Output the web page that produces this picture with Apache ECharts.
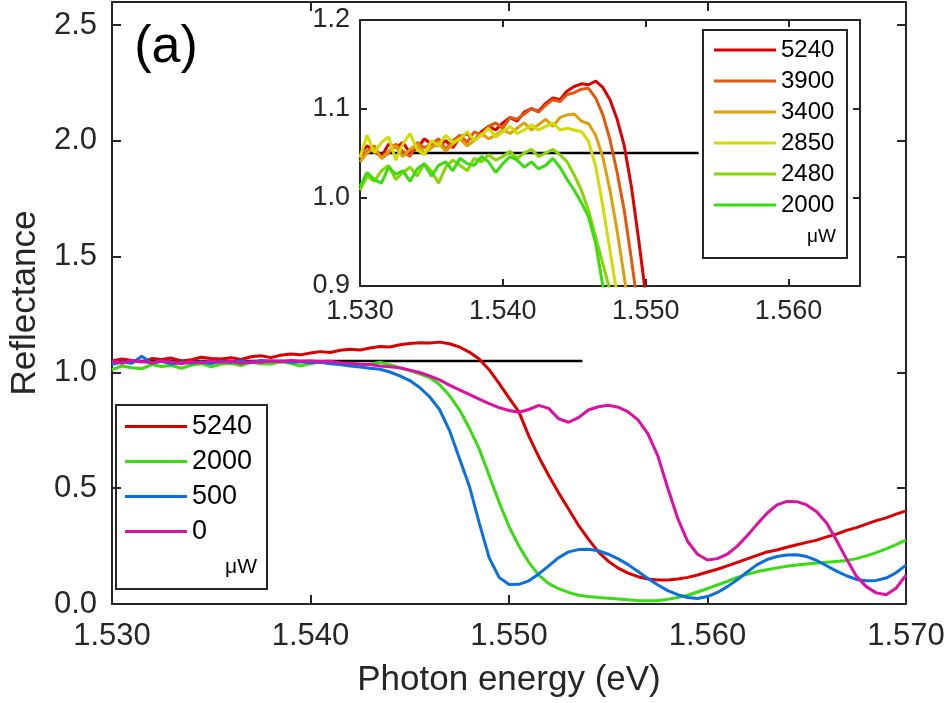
<!DOCTYPE html>
<html>
<head>
<meta charset="utf-8">
<script src="https://cdn.jsdelivr.net/npm/echarts@6/dist/echarts.min.js"></script>
<style>
  html, body { margin: 0; padding: 0; background: #fff; }
  #chart { width: 948px; height: 703px; }
</style>
</head>
<body>
<div id="chart"></div>
<script>
// photon energy (eV), sampled every 0.5 meV
var energy = [
  1.5300,1.5305,1.5310,1.5315,1.5320,1.5325,1.5330,1.5335,1.5340,1.5345,
  1.5350,1.5355,1.5360,1.5365,1.5370,1.5375,1.5380,1.5385,1.5390,1.5395,
  1.5400,1.5405,1.5410,1.5415,1.5420,1.5425,1.5430,1.5435,1.5440,1.5445,
  1.5450,1.5455,1.5460,1.5465,1.5470,1.5475,1.5480,1.5485,1.5490,1.5495,
  1.5500,1.5505,1.5510,1.5515,1.5520,1.5525,1.5530,1.5535,1.5540,1.5545,
  1.5550,1.5555,1.5560,1.5565,1.5570,1.5575,1.5580,1.5585,1.5590,1.5595,
  1.5600,1.5605,1.5610,1.5615,1.5620,1.5625,1.5630,1.5635,1.5640,1.5645,
  1.5650,1.5655,1.5660,1.5665,1.5670,1.5675,1.5680,1.5685,1.5690,1.5695,
  1.5700
];

// main panel, reflectance for each pump power (uW)
var r5240 = [
  1.050,1.058,1.052,1.046,1.060,1.056,1.062,1.050,1.055,1.066,
  1.060,1.058,1.064,1.056,1.068,1.072,1.064,1.074,1.080,1.076,
  1.084,1.090,1.086,1.096,1.100,1.097,1.106,1.112,1.110,1.120,
  1.125,1.128,1.127,1.131,1.124,1.110,1.088,1.058,1.012,0.953,
  0.890,0.830,0.725,0.635,0.555,0.480,0.410,0.340,0.280,0.225,
  0.185,0.155,0.133,0.118,0.108,0.104,0.104,0.108,0.115,0.125,
  0.138,0.150,0.165,0.180,0.195,0.210,0.225,0.233,0.245,0.256,
  0.266,0.276,0.290,0.302,0.318,0.330,0.345,0.360,0.372,0.388,
  0.402
];
var r2000 = [
  1.012,1.028,1.020,1.016,1.034,1.026,1.030,1.018,1.032,1.038,
  1.024,1.036,1.040,1.030,1.044,1.038,1.036,1.046,1.040,1.028,
  1.038,1.046,1.042,1.034,1.040,1.032,1.036,1.044,1.034,1.020,
  1.008,0.994,0.978,0.948,0.900,0.840,0.760,0.670,0.555,0.440,
  0.335,0.250,0.180,0.125,0.088,0.066,0.050,0.038,0.032,0.028,
  0.025,0.022,0.018,0.015,0.014,0.015,0.020,0.028,0.038,0.052,
  0.066,0.082,0.098,0.115,0.128,0.140,0.148,0.156,0.163,0.168,
  0.173,0.177,0.180,0.184,0.188,0.196,0.208,0.222,0.238,0.256,
  0.276
];
var r500 = [
  1.035,1.045,1.040,1.070,1.040,1.048,1.036,1.044,1.040,1.046,
  1.038,1.048,1.044,1.050,1.042,1.052,1.048,1.050,1.044,1.046,
  1.042,1.044,1.038,1.034,1.028,1.024,1.018,1.014,1.002,0.985,
  0.965,0.935,0.895,0.840,0.750,0.630,0.510,0.350,0.200,0.115,
  0.084,0.085,0.100,0.130,0.165,0.200,0.225,0.235,0.236,0.230,
  0.215,0.195,0.170,0.140,0.110,0.082,0.058,0.040,0.028,0.024,
  0.032,0.050,0.075,0.105,0.138,0.170,0.192,0.205,0.212,0.213,
  0.205,0.188,0.165,0.142,0.122,0.106,0.100,0.102,0.112,0.135,
  0.168
];
var r0 = [
  1.048,1.040,1.052,1.046,1.042,1.050,1.046,1.038,1.046,1.042,
  1.050,1.044,1.048,1.040,1.046,1.044,1.050,1.046,1.052,1.048,
  1.050,1.046,1.048,1.042,1.040,1.036,1.034,1.028,1.025,1.020,
  1.010,1.000,0.985,0.968,0.945,0.925,0.905,0.885,0.865,0.848,
  0.836,0.828,0.840,0.858,0.845,0.800,0.785,0.805,0.838,0.852,
  0.858,0.850,0.830,0.795,0.735,0.640,0.500,0.370,0.270,0.215,
  0.190,0.196,0.215,0.250,0.295,0.345,0.392,0.428,0.443,0.442,
  0.428,0.398,0.350,0.275,0.195,0.120,0.075,0.048,0.040,0.068,
  0.125
];

// inset, first 42 energies (1.5300 .. 1.5505)
var insetEnergy = energy.slice(0, 42);
var i3900 = [
  1.045,1.052,1.058,1.044,1.050,1.060,1.052,1.046,1.062,1.056,
  1.060,1.066,1.054,1.064,1.070,1.062,1.074,1.070,1.080,1.084,
  1.078,1.090,1.088,1.094,1.100,1.096,1.104,1.110,1.108,1.116,
  1.118,1.122,1.123,1.112,1.093,1.065,1.028,0.985,0.930,0.870,
  0.810,0.750
];
var i3400 = [
  1.040,1.050,1.056,1.044,1.052,1.058,1.046,1.054,1.060,1.050,
  1.056,1.062,1.052,1.060,1.066,1.058,1.064,1.072,1.066,1.070,
  1.076,1.072,1.078,1.084,1.076,1.082,1.088,1.080,1.090,1.093,
  1.094,1.086,1.083,1.070,1.045,1.008,0.962,0.910,0.850,0.790,
  0.730,0.670
];
var i2850 = [
  1.045,1.070,1.050,1.062,1.068,1.042,1.060,1.072,1.054,1.048,
  1.064,1.058,1.070,1.062,1.066,1.074,1.064,1.070,1.078,1.068,
  1.074,1.080,1.072,1.076,1.082,1.076,1.080,1.084,1.076,1.078,
  1.076,1.074,1.063,1.035,0.990,0.940,0.890,0.840,0.790,0.740,
  0.690,0.640
];
var i2480 = [
  1.008,1.024,1.018,1.030,1.036,1.020,1.028,1.034,1.024,1.038,
  1.030,1.016,1.034,1.042,1.036,1.030,1.044,1.040,1.048,1.042,
  1.046,1.052,1.044,1.050,1.054,1.046,1.050,1.054,1.048,1.040,
  1.025,1.008,0.985,0.955,0.925,0.895,0.860,0.820,0.780,0.740,
  0.700,0.660
];
var i5240 = r5240.slice(0, 42);
var i2000 = r2000.slice(0, 42);

// reference level line
var refX = [1.530, 1.5537];
var refY = [1.05, 1.05];

var mainNames = ['5240', '2000', '500', '0'];
var insetNames = ['5240', '3900', '3400', '2850', '2480', '2000'];

var colors = {
  '5240': '#dd0000', '3900': '#e3580c', '3400': '#dd9f0a',
  '2850': '#d2dc00', '2480': '#86d600', '2000': '#38dc10',
  '500': '#0b6fde', '0': '#de0fa5'
};

var FONT = 'Liberation Sans';
var AX = '#262626';

function pairs(xs, ys) {
  return xs.map(function (x, i) { return [x, ys[i]]; });
}
function lineSeries(name, xs, ys, idx) {
  return {
    name: name, type: 'line', data: pairs(xs, ys),
    xAxisIndex: idx, yAxisIndex: idx,
    showSymbol: false, symbol: 'none', clip: true,
    lineStyle: { color: colors[name], width: 3 },
    itemStyle: { color: colors[name] },
    z: 3
  };
}
function refSeries(idx) {
  return {
    name: 'ref' + idx, type: 'line', data: pairs(refX, refY),
    xAxisIndex: idx, yAxisIndex: idx, showSymbol: false, symbol: 'none',
    lineStyle: { color: '#000', width: 2.5 }, z: 2
  };
}
function multiple(v, step) {
  var k = v / step;
  return Math.abs(k - Math.round(k)) < 1e-6;
}
function xAxis(grid, pos, min, max, fs, margin, tick, labels, name) {
  return {
    type: 'value', gridIndex: grid, position: pos, min: min, max: max, interval: 0.01,
    axisLine: { show: true, onZero: false, lineStyle: { color: AX, width: 2 } },
    axisTick: { show: true, inside: true, length: tick, lineStyle: { color: AX, width: 2 } },
    splitLine: { show: false },
    axisLabel: {
      show: labels, margin: margin, fontFamily: FONT, fontSize: fs, color: AX,
      formatter: function (v) { return multiple(v, 0.01) ? v.toFixed(3) : ''; }
    },
    name: name || '', nameLocation: 'middle', nameGap: 59,
    nameTextStyle: { fontFamily: FONT, fontSize: 35, color: AX }
  };
}
function yAxis(grid, pos, min, max, step, fs, margin, tick, labels, name) {
  return {
    type: 'value', gridIndex: grid, position: pos, min: min, max: max, interval: step,
    axisLine: { show: true, onZero: false, lineStyle: { color: AX, width: 2 } },
    axisTick: { show: true, inside: true, length: tick, lineStyle: { color: AX, width: 2 } },
    splitLine: { show: false },
    axisLabel: {
      show: labels, margin: margin, fontFamily: FONT, fontSize: fs, color: AX,
      formatter: function (v) { return multiple(v, step) ? v.toFixed(1) : ''; }
    },
    name: name || '', nameLocation: 'middle', nameGap: 66,
    nameTextStyle: { fontFamily: FONT, fontSize: 35, color: AX }
  };
}
function legend(names, left, top, fs, gap, w) {
  return {
    data: names, orient: 'vertical', left: left, top: top, padding: 0,
    itemWidth: w, itemHeight: 3, itemGap: gap, icon: 'rect', selectedMode: false,
    textStyle: { fontFamily: FONT, fontSize: fs, lineHeight: fs, color: '#000' },
    z: 10
  };
}

var chart = echarts.init(document.getElementById('chart'));
chart.setOption({
  animation: false,
  backgroundColor: '#fff',
  grid: [
    { left: 100, top: 2, right: 42, bottom: 97 },
    { left: 360, top: 20, right: 88, bottom: 417 }
  ],
  xAxis: [
    xAxis(0, 'bottom', 1.53, 1.57, 31, 17, 9, true, 'Photon energy (eV)'),
    xAxis(0, 'top', 1.53, 1.57, 31, 17, 9, false),
    xAxis(1, 'bottom', 1.53, 1.565, 27, 12, 7, true),
    xAxis(1, 'top', 1.53, 1.565, 27, 12, 7, false)
  ],
  yAxis: [
    yAxis(0, 'left', 0, 2.6, 0.5, 31, 15, 9, true, 'Reflectance'),
    yAxis(0, 'right', 0, 2.6, 0.5, 31, 15, 9, false),
    yAxis(1, 'left', 0.9, 1.2, 0.1, 27, 10, 7, true),
    yAxis(1, 'right', 0.9, 1.2, 0.1, 27, 10, 7, false)
  ],
  legend: [
    legend(mainNames, 125, 413, 27, 8, 62),
    legend(insetNames, 714, 38, 24, 7, 62)
  ],
  graphic: [
    { type: 'rect', z: 1, shape: { x: 116, y: 405, width: 151, height: 184 },
      style: { fill: 'none', stroke: AX, lineWidth: 2 } },
    { type: 'rect', z: 1, shape: { x: 703, y: 30, width: 144, height: 228 },
      style: { fill: 'none', stroke: AX, lineWidth: 2 } },
    { type: 'text', z: 10, x: 257, y: 567,
      style: { text: 'μW', font: '21px "Liberation Sans"', fill: '#000', textAlign: 'right', textVerticalAlign: 'middle' } },
    { type: 'text', z: 10, x: 836, y: 237,
      style: { text: 'μW', font: '19px "Liberation Sans"', fill: '#000', textAlign: 'right', textVerticalAlign: 'middle' } },
    { type: 'text', z: 10, x: 166, y: 48,
      style: { text: '(a)', font: '52px "Liberation Sans"', fill: '#000', textAlign: 'center', textVerticalAlign: 'middle' } }
  ],
  series: [
    refSeries(0),
    lineSeries('5240', energy, r5240, 0),
    lineSeries('2000', energy, r2000, 0),
    lineSeries('500', energy, r500, 0),
    lineSeries('0', energy, r0, 0),
    refSeries(2),
    lineSeries('5240', insetEnergy, i5240, 2),
    lineSeries('3900', insetEnergy, i3900, 2),
    lineSeries('3400', insetEnergy, i3400, 2),
    lineSeries('2850', insetEnergy, i2850, 2),
    lineSeries('2480', insetEnergy, i2480, 2),
    lineSeries('2000', insetEnergy, i2000, 2)
  ]
});
</script>
</body>
</html>
